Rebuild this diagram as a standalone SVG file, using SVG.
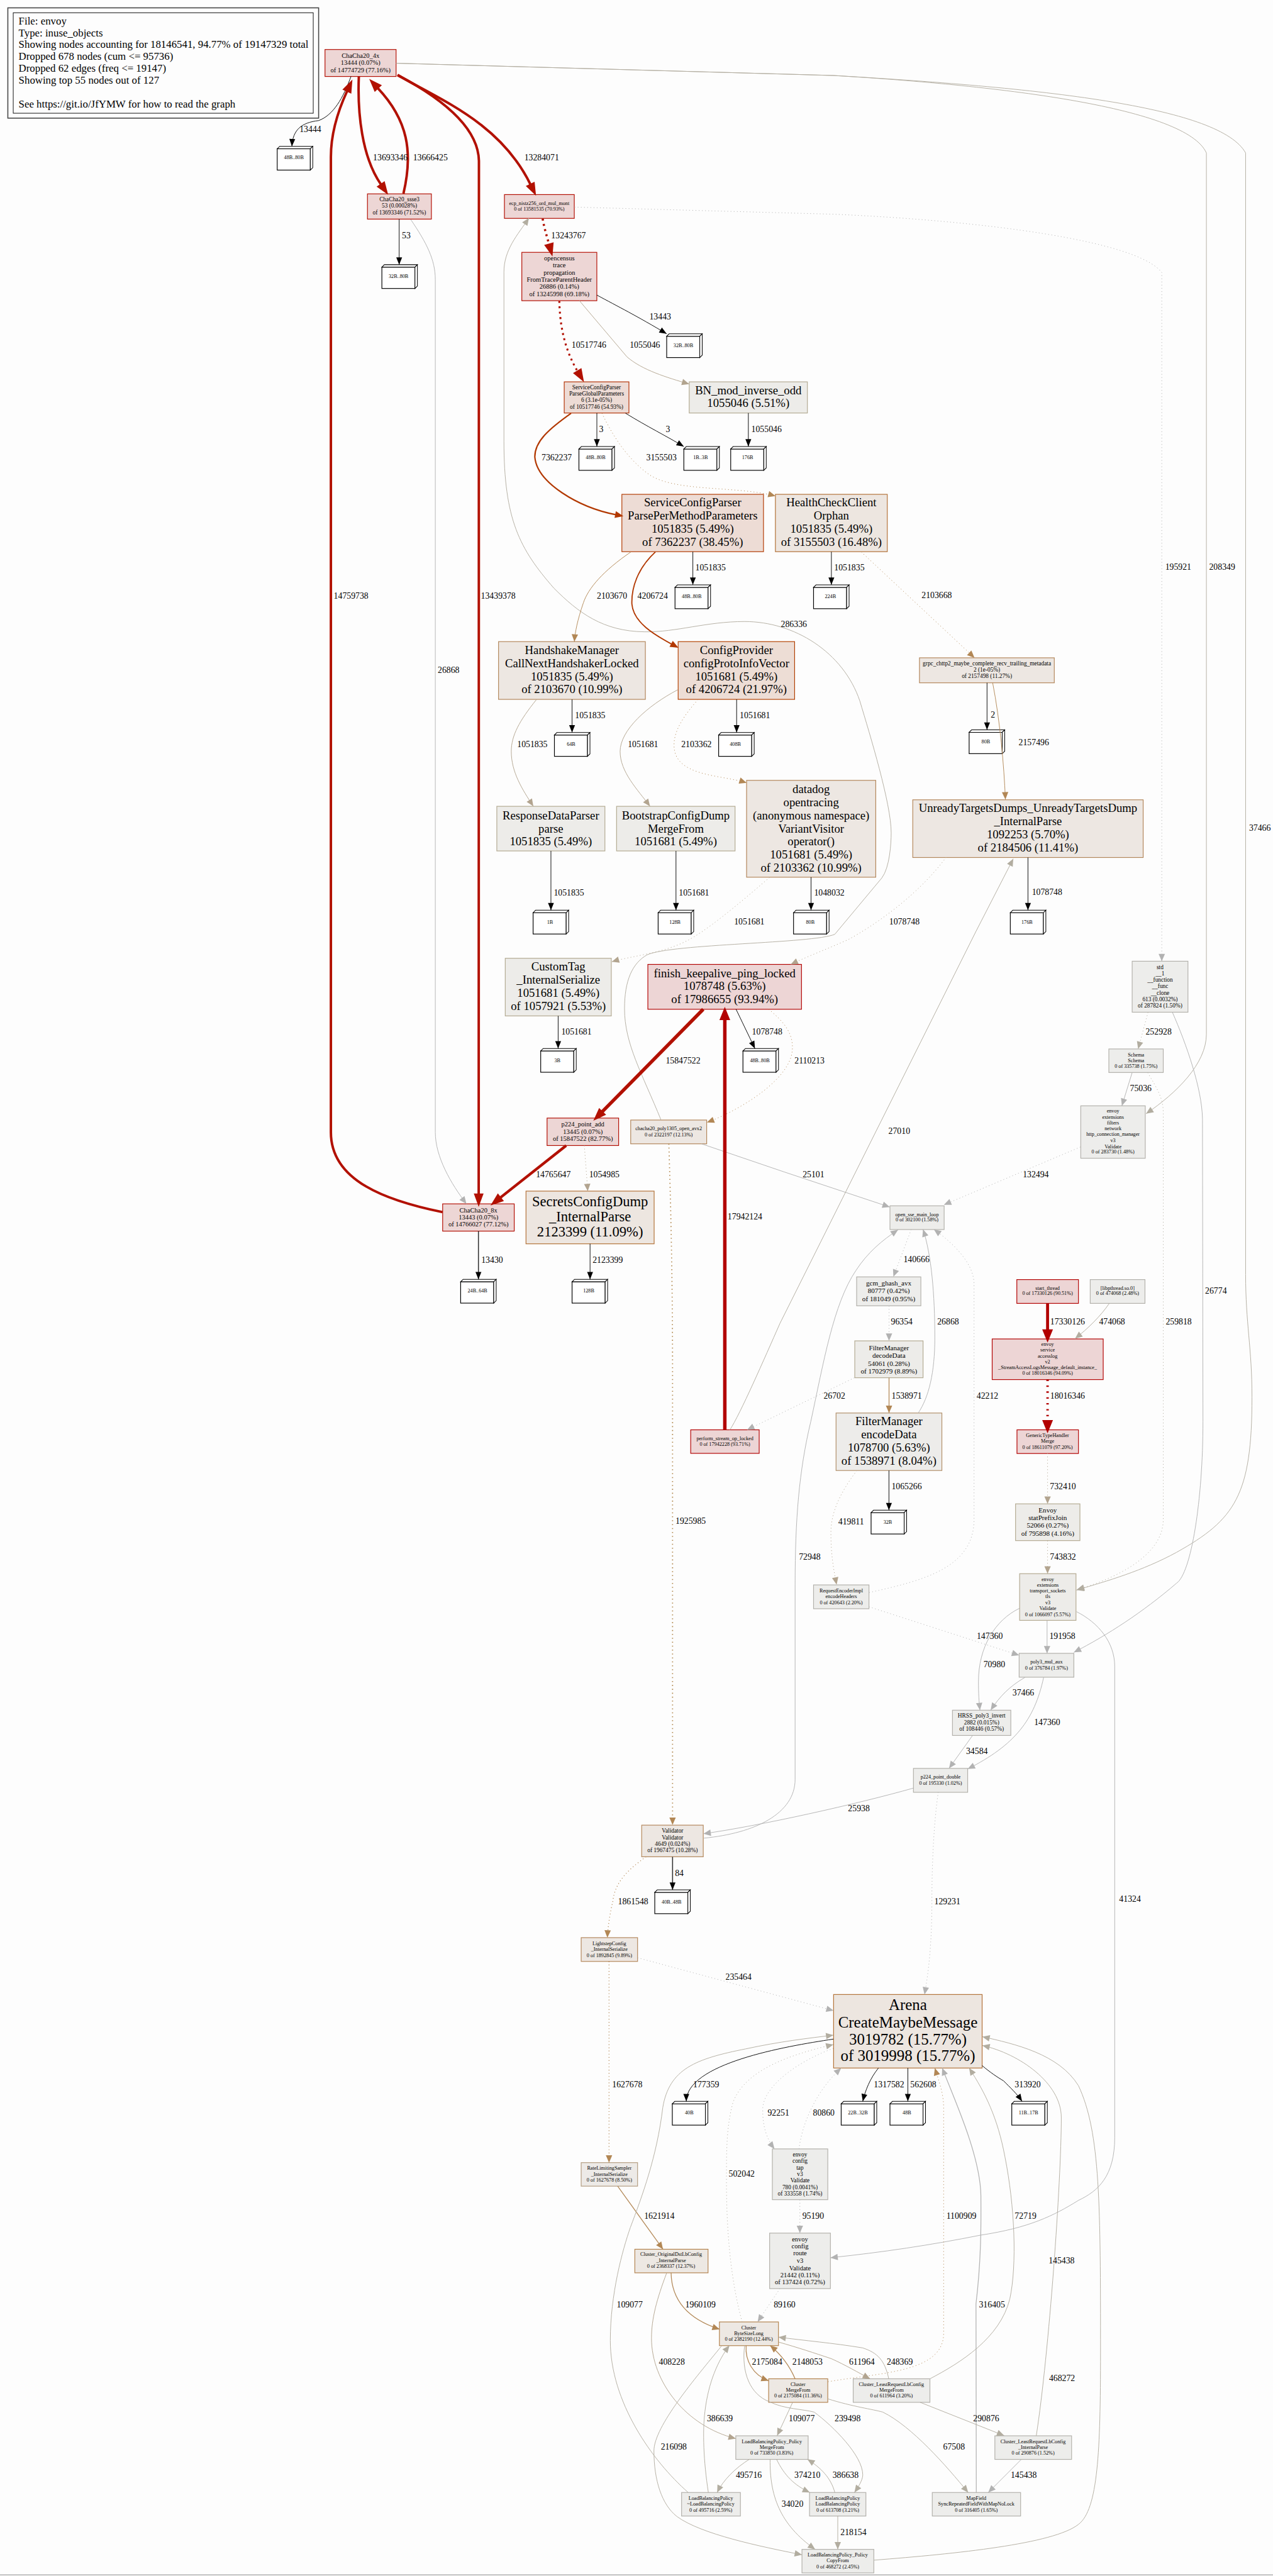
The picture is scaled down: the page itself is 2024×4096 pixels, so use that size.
<svg xmlns="http://www.w3.org/2000/svg" width="2024" height="4096" viewBox="0 0 2024 4096">
<style>
text{font-family:"Liberation Serif","Times New Roman",serif;fill:#000;dominant-baseline:central}
.c text{text-anchor:middle}
.f10{font-size:10.5px}.f12{font-size:12px}.f13{font-size:13.5px}.f14{font-size:14.3px}.f24{font-size:24px}.f29{font-size:29px}.f32{font-size:32px}
.l{font-size:17.7px}
.lg{font-size:21.6px}
rect.n{stroke-width:1.5}
.r0{fill:#edd5d5;stroke:#b20000}.r1{fill:#edd6d5;stroke:#b20c00}.r2{fill:#eddbd5;stroke:#b22e00}.r3{fill:#eddcd5;stroke:#b23a00}.r4{fill:#edddd5;stroke:#b24000}
.o1{fill:#ede6e0;stroke:#b27035}.o2{fill:#ede7e2;stroke:#b28559}.o3{fill:#ede8e3;stroke:#b2814c}.o4{fill:#edeae7;stroke:#b29b7f}
.t1{fill:#edece9;stroke:#b2a990}.t2{fill:#edecea;stroke:#b28f68}.g1{fill:#ededeb;stroke:#b2b0aa}
path{fill:none}
.e{stroke-width:1.2}
.d{stroke-dasharray:1.5 5}
.eg{stroke:#b2b2b2;marker-end:url(#ag)}
.ew{stroke:#b2ada0;marker-end:url(#aw)}
.et{stroke:#b2a48f;marker-end:url(#at)}
.eo{stroke:#b28755;marker-end:url(#ao)}
.ek{stroke:#000;marker-end:url(#ak)}
.rr{stroke:#b21000;marker-end:url(#ar)}
.rb{stroke:#b20000;marker-end:url(#arb)}
.ro{stroke:#b23800;marker-end:url(#aro)}
.w15{stroke-width:1.6}
</style>
<defs>
<marker id="ag" markerUnits="userSpaceOnUse" markerWidth="16" markerHeight="14" refX="15" refY="6.5" orient="auto" overflow="visible"><polygon points="0,0 15,6.5 0,13" fill="#b2b2b2"/></marker>
<marker id="aw" markerUnits="userSpaceOnUse" markerWidth="16" markerHeight="14" refX="15" refY="6.5" orient="auto" overflow="visible"><polygon points="0,0 15,6.5 0,13" fill="#b2ada0"/></marker>
<marker id="at" markerUnits="userSpaceOnUse" markerWidth="16" markerHeight="14" refX="15" refY="6.5" orient="auto" overflow="visible"><polygon points="0,0 15,6.5 0,13" fill="#b2a48f"/></marker>
<marker id="ao" markerUnits="userSpaceOnUse" markerWidth="16" markerHeight="14" refX="15" refY="6.5" orient="auto" overflow="visible"><polygon points="0,0 15,6.5 0,13" fill="#b28755"/></marker>
<marker id="ak" markerUnits="userSpaceOnUse" markerWidth="16" markerHeight="14" refX="15" refY="6" orient="auto" overflow="visible"><polygon points="0,0 15,6 0,12" fill="#000"/></marker>
<marker id="ar" markerUnits="userSpaceOnUse" markerWidth="30" markerHeight="22" refX="1" refY="10" orient="auto" overflow="visible"><polygon points="0,0 27,10 0,20" fill="#b21000"/></marker>
<marker id="arb" markerUnits="userSpaceOnUse" markerWidth="30" markerHeight="24" refX="1" refY="11" orient="auto" overflow="visible"><polygon points="0,0 27,11 0,22" fill="#b20000"/></marker>
<marker id="aro" markerUnits="userSpaceOnUse" markerWidth="18" markerHeight="16" refX="1" refY="7" orient="auto" overflow="visible"><polygon points="0,0 17,7 0,14" fill="#b23800"/></marker>
<g id="bx"><rect x="0" y="5" width="67.5" height="43.5" fill="#fff" stroke="#000" stroke-width="1.5"/><polygon points="0,5 5,0 72.5,0 67.5,5" fill="#fff" stroke="#000" stroke-width="1.3"/><polygon points="67.5,5 72.5,0 72.5,43.5 67.5,48.5" fill="#fff" stroke="#000" stroke-width="1.3"/></g>
</defs>
<rect x="0" y="0" width="2024" height="4096" fill="#fdfdfd"/>
<g transform="scale(0.7794)">
<line x1="0" y1="5253" x2="2597" y2="5253" stroke="#b0b0b0" stroke-width="2"/>
<g id="legend">
<rect x="16" y="16" width="634" height="225" fill="#fdfdfd" stroke="#444" stroke-width="2"/>
<rect x="27" y="26" width="612" height="205" fill="#fdfdfd" stroke="#000" stroke-width="1.2"/>
<text class="lg" x="38" y="43">File: envoy</text>
<text class="lg" x="38" y="67">Type: inuse_objects</text>
<text class="lg" x="38" y="91">Showing nodes accounting for 18146541, 94.77% of 19147329 total</text>
<text class="lg" x="38" y="115">Dropped 678 nodes (cum &lt;= 95736)</text>
<text class="lg" x="38" y="139">Dropped 62 edges (freq &lt;= 19147)</text>
<text class="lg" x="38" y="163">Showing top 55 nodes out of 127</text>
<text class="lg" x="38" y="212">See https://git.io/JfYMW for how to read the graph</text>
</g>
<g id="nodes" class="c">
<g id="n1"><rect class="n r1" x="663" y="101" width="145" height="55"/><text class="f13" x="735.5" y="113">ChaCha20_4x</text><text class="f13" x="735.5" y="128">13444 (0.07%)</text><text class="f13" x="735.5" y="143">of 14774729 (77.16%)</text></g>
<g id="n2"><rect class="n r1" x="749.6" y="395.5" width="130.4" height="51.5"/><text class="f12" x="814.8" y="407">ChaCha20_ssse3</text><text class="f12" x="814.8" y="420">53 (0.00028%)</text><text class="f12" x="814.8" y="434">of 13693346 (71.52%)</text></g>
<g id="n3"><rect class="n r1" x="1029" y="397" width="142.5" height="48.5"/><text class="f10" x="1100" y="414.5">ecp_nistz256_ord_mul_mont</text><text class="f10" x="1100" y="426.5">0 of 13581535 (70.93%)</text></g>
<g id="n4"><rect class="n r1" x="1064.5" y="514.8" width="153" height="98.7"/><text class="f13" x="1141" y="527">opencensus</text><text class="f13" x="1141" y="541">trace</text><text class="f13" x="1141" y="556">propagation</text><text class="f13" x="1141" y="570.5">FromTraceParentHeader</text><text class="f13" x="1141" y="585">26886 (0.14%)</text><text class="f13" x="1141" y="600">of 13245998 (69.18%)</text></g>
<g id="n5"><rect class="n r2" x="1151" y="779" width="132" height="63.6"/><text class="f12" x="1217" y="790">ServiceConfigParser</text><text class="f12" x="1217" y="803">ParseGlobalParameters</text><text class="f12" x="1217" y="816">6 (3.1e-05%)</text><text class="f12" x="1217" y="830">of 10517746 (54.93%)</text></g>
<g id="n6"><rect class="n t1" x="1406" y="779" width="241" height="63.6"/><text class="f24" x="1526.5" y="795.5">BN_mod_inverse_odd</text><text class="f24" x="1526.5" y="822">1055046 (5.51%)</text></g>
<g id="n7"><rect class="n r3" x="1268.6" y="1008.5" width="288.9" height="117"/><text class="f24" x="1413" y="1025">ServiceConfigParser</text><text class="f24" x="1413" y="1051.5">ParsePerMethodParameters</text><text class="f24" x="1413" y="1078.5">1051835 (5.49%)</text><text class="f24" x="1413" y="1105">of 7362237 (38.45%)</text></g>
<g id="n8"><rect class="n o1" x="1581.8" y="1008.5" width="228.2" height="117"/><text class="f24" x="1696" y="1025">HealthCheckClient</text><text class="f24" x="1696" y="1051.5">Orphan</text><text class="f24" x="1696" y="1078.5">1051835 (5.49%)</text><text class="f24" x="1696" y="1105">of 3155503 (16.48%)</text></g>
<g id="n9"><rect class="n o2" x="1017" y="1309" width="299.5" height="117.8"/><text class="f24" x="1166.7" y="1326">HandshakeManager</text><text class="f24" x="1166.7" y="1353">CallNextHandshakerLocked</text><text class="f24" x="1166.7" y="1380">1051835 (5.49%)</text><text class="f24" x="1166.7" y="1406">of 2103670 (10.99%)</text></g>
<g id="n10"><rect class="n r4" x="1383.4" y="1309" width="237.6" height="117.8"/><text class="f24" x="1502.2" y="1326">ConfigProvider</text><text class="f24" x="1502.2" y="1353">configProtoInfoVector</text><text class="f24" x="1502.2" y="1380">1051681 (5.49%)</text><text class="f24" x="1502.2" y="1406">of 4206724 (21.97%)</text></g>
<g id="n11"><rect class="n t1" x="1013.5" y="1645" width="220.5" height="91"/><text class="f24" x="1123.7" y="1663">ResponseDataParser</text><text class="f24" x="1123.7" y="1690">parse</text><text class="f24" x="1123.7" y="1715.5">1051835 (5.49%)</text></g>
<g id="n12"><rect class="n t1" x="1257.8" y="1645" width="241.7" height="91"/><text class="f24" x="1378.6" y="1663">BootstrapConfigDump</text><text class="f24" x="1378.6" y="1690">MergeFrom</text><text class="f24" x="1378.6" y="1715.5">1051681 (5.49%)</text></g>
<g id="n13"><rect class="n o2" x="1523" y="1592" width="263.5" height="197.6"/><text class="f24" x="1654.7" y="1610">datadog</text><text class="f24" x="1654.7" y="1636">opentracing</text><text class="f24" x="1654.7" y="1663">(anonymous namespace)</text><text class="f24" x="1654.7" y="1690">VariantVisitor</text><text class="f24" x="1654.7" y="1716">operator()</text><text class="f24" x="1654.7" y="1742.5">1051681 (5.49%)</text><text class="f24" x="1654.7" y="1769.5">of 2103362 (10.99%)</text></g>
<g id="n14"><rect class="n o2" x="1875.7" y="1342" width="275" height="51"/><text class="f12" x="2013.2" y="1353.6">grpc_chttp2_maybe_complete_recv_trailing_metadata</text><text class="f12" x="2013.2" y="1366">2 (1e-05%)</text><text class="f12" x="2013.2" y="1379.5">of 2157498 (11.27%)</text></g>
<g id="n15"><rect class="n o2" x="1862" y="1631.7" width="470" height="117.7"/><text class="f24" x="2097" y="1648">UnreadyTargetsDumps_UnreadyTargetsDump</text><text class="f24" x="2097" y="1675">_InternalParse</text><text class="f24" x="2097" y="1702">1092253 (5.70%)</text><text class="f24" x="2097" y="1729">of 2184506 (11.41%)</text></g>
<g id="n16"><rect class="n t1" x="1030.7" y="1955" width="216.3" height="117.6"/><text class="f24" x="1139" y="1972">CustomTag</text><text class="f24" x="1139" y="1998.5">_InternalSerialize</text><text class="f24" x="1139" y="2025.5">1051681 (5.49%)</text><text class="f24" x="1139" y="2052">of 1057921 (5.53%)</text></g>
<g id="n17"><rect class="n r0" x="1321.6" y="1967.5" width="313.4" height="91.5"/><text class="f24" x="1478.3" y="1985">finish_keepalive_ping_locked</text><text class="f24" x="1478.3" y="2011.7">1078748 (5.63%)</text><text class="f24" x="1478.3" y="2038.7">of 17986655 (93.94%)</text></g>
<g id="n18"><rect class="n r1" x="1116" y="2281" width="146" height="56"/><text class="f13" x="1189" y="2294">p224_point_add</text><text class="f13" x="1189" y="2308.5">13445 (0.07%)</text><text class="f13" x="1189" y="2323">of 15847522 (82.77%)</text></g>
<g id="n19"><rect class="n o2" x="1286.6" y="2285" width="155" height="48.5"/><text class="f10" x="1364" y="2302.7">chacha20_poly1305_open_avx2</text><text class="f10" x="1364" y="2314.7">0 of 2322197 (12.13%)</text></g>
<g id="n20"><rect class="n r1" x="903" y="2456" width="146" height="55.6"/><text class="f13" x="976" y="2469">ChaCha20_8x</text><text class="f13" x="976" y="2483">13443 (0.07%)</text><text class="f13" x="976" y="2498">of 14766027 (77.12%)</text></g>
<g id="n21"><rect class="n o1" x="1073" y="2430" width="261.4" height="107.5"/><text class="f29" x="1203.7" y="2451">SecretsConfigDump</text><text class="f29" x="1203.7" y="2482">_InternalParse</text><text class="f29" x="1203.7" y="2513.4">2123399 (11.09%)</text></g>
<g id="n22"><rect class="n g1" x="2309.6" y="1961" width="113.8" height="104"/><text class="f12" x="2366.5" y="1973">std</text><text class="f12" x="2366.5" y="1986">__1</text><text class="f12" x="2366.5" y="1999.5">__function</text><text class="f12" x="2366.5" y="2012">__func</text><text class="f12" x="2366.5" y="2026">__clone</text><text class="f12" x="2366.5" y="2039">613 (0.0032%)</text><text class="f12" x="2366.5" y="2052">of 287824 (1.50%)</text></g>
<g id="n23"><rect class="n g1" x="2262" y="2140" width="111" height="48"/><text class="f10" x="2317.5" y="2152">Schema</text><text class="f10" x="2317.5" y="2163.4">Schema</text><text class="f10" x="2317.5" y="2175.5">0 of 335738 (1.75%)</text></g>
<g id="n24"><rect class="n g1" x="2204.7" y="2256" width="131.6" height="107"/><text class="f10" x="2270.5" y="2267">envoy</text><text class="f10" x="2270.5" y="2279">extensions</text><text class="f10" x="2270.5" y="2291">filters</text><text class="f10" x="2270.5" y="2303">network</text><text class="f10" x="2270.5" y="2314.5">http_connection_manager</text><text class="f10" x="2270.5" y="2326.6">v3</text><text class="f10" x="2270.5" y="2339">Validate</text><text class="f10" x="2270.5" y="2350">0 of 283730 (1.48%)</text></g>
<g id="n25"><rect class="n g1" x="1815.5" y="2460" width="110.5" height="48.4"/><text class="f10" x="1870.7" y="2478">open_sse_main_loop</text><text class="f10" x="1870.7" y="2489">0 of 302100 (1.58%)</text></g>
<g id="n26"><rect class="n g1" x="1747.5" y="2605" width="131" height="59"/><text class="f14" x="1813" y="2617.5">gcm_ghash_avx</text><text class="f14" x="1813" y="2633.4">80777 (0.42%)</text><text class="f14" x="1813" y="2649.4">of 181049 (0.95%)</text></g>
<g id="n27"><rect class="n t1" x="1743.7" y="2735.5" width="139.3" height="75.2"/><text class="f14" x="1813.4" y="2749">FilterManager</text><text class="f14" x="1813.4" y="2765">decodeData</text><text class="f14" x="1813.4" y="2781">54061 (0.28%)</text><text class="f14" x="1813.4" y="2797">of 1702979 (8.89%)</text></g>
<g id="n28"><rect class="n r0" x="2074.3" y="2610.5" width="125.7" height="48.5"/><text class="f10" x="2137" y="2627.7">start_thread</text><text class="f10" x="2137" y="2639">0 of 17330126 (90.51%)</text></g>
<g id="n29"><rect class="n g1" x="2224" y="2610.5" width="111.7" height="48.5"/><text class="f10" x="2279.8" y="2627.7">[libpthread.so.0]</text><text class="f10" x="2279.8" y="2639">0 of 474068 (2.48%)</text></g>
<g id="n30"><rect class="n r0" x="2024" y="2731.6" width="226.5" height="82.9"/><text class="f10" x="2137" y="2743">envoy</text><text class="f10" x="2137" y="2754.6">service</text><text class="f10" x="2137" y="2766.7">accesslog</text><text class="f10" x="2137" y="2778">v2</text><text class="f10" x="2137" y="2790">_StreamAccessLogsMessage_default_instance_</text><text class="f10" x="2137" y="2802">0 of 18016346 (94.09%)</text></g>
<g id="n31"><rect class="n t2" x="1705.5" y="2882.7" width="215.9" height="117.3"/><text class="f24" x="1813.4" y="2899">FilterManager</text><text class="f24" x="1813.4" y="2926">encodeData</text><text class="f24" x="1813.4" y="2953">1078700 (5.63%)</text><text class="f24" x="1813.4" y="2979.7">of 1538971 (8.04%)</text></g>
<g id="n32"><rect class="n r0" x="2074.6" y="2917" width="125.4" height="48.3"/><text class="f10" x="2137" y="2928.6">GenericTypeHandler</text><text class="f10" x="2137" y="2940.6">Merge</text><text class="f10" x="2137" y="2952.7">0 of 18611079 (97.20%)</text></g>
<g id="n33"><rect class="n r0" x="1409" y="2917" width="139.7" height="48"/><text class="f10" x="1478.8" y="2935">perform_stream_op_locked</text><text class="f10" x="1478.8" y="2946.5">0 of 17942228 (93.71%)</text></g>
<g id="n34"><rect class="n t1" x="2071.7" y="3068" width="131.3" height="75"/><text class="f14" x="2137.3" y="3080.7">Envoy</text><text class="f14" x="2137.3" y="3096">statPrefixJoin</text><text class="f14" x="2137.3" y="3112">52066 (0.27%)</text><text class="f14" x="2137.3" y="3128">of 795898 (4.16%)</text></g>
<g id="n35"><rect class="n t1" x="2080" y="3210.5" width="115" height="95.2"/><text class="f10" x="2137.5" y="3222">envoy</text><text class="f10" x="2137.5" y="3234">extensions</text><text class="f10" x="2137.5" y="3246">transport_sockets</text><text class="f10" x="2137.5" y="3257.5">tls</text><text class="f10" x="2137.5" y="3269.6">v3</text><text class="f10" x="2137.5" y="3281.6">Validate</text><text class="f10" x="2137.5" y="3293.7">0 of 1066097 (5.57%)</text></g>
<g id="n36"><rect class="n g1" x="1659.6" y="3233.4" width="113.1" height="48.6"/><text class="f10" x="1716" y="3245.5">RequestEncoderImpl</text><text class="f10" x="1716" y="3257.5">encodeHeaders</text><text class="f10" x="1716" y="3269.6">0 of 420643 (2.20%)</text></g>
<g id="n37"><rect class="n g1" x="2079" y="3373" width="111.6" height="48.7"/><text class="f10" x="2134.8" y="3390.7">poly3_mul_aux</text><text class="f10" x="2134.8" y="3402.8">0 of 376784 (1.97%)</text></g>
<g id="n38"><rect class="n g1" x="1943" y="3489" width="119" height="51.5"/><text class="f12" x="2002.5" y="3500.3">HRSS_poly3_invert</text><text class="f12" x="2002.5" y="3513.6">2882 (0.015%)</text><text class="f12" x="2002.5" y="3527.3">of 108446 (0.57%)</text></g>
<g id="n39"><rect class="n g1" x="1863.4" y="3607.7" width="110.6" height="48.8"/><text class="f10" x="1918.7" y="3625.5">p224_point_double</text><text class="f10" x="1918.7" y="3637.5">0 of 195330 (1.02%)</text></g>
<g id="n40"><rect class="n o2" x="1309" y="3723.5" width="125.6" height="64.5"/><text class="f12" x="1372" y="3735">Validator</text><text class="f12" x="1372" y="3748.5">Validator</text><text class="f12" x="1372" y="3761.7">4649 (0.024%)</text><text class="f12" x="1372" y="3775">of 1967475 (10.28%)</text></g>
<g id="n41"><rect class="n o2" x="1185.6" y="3953" width="115" height="48.5"/><text class="f10" x="1243" y="3965">LightstepConfig</text><text class="f10" x="1243" y="3977">_InternalSerialize</text><text class="f10" x="1243" y="3989">0 of 1892845 (9.89%)</text></g>
<g id="n42"><rect class="n o1" x="1700.5" y="4069" width="303" height="150"/><text class="f32" x="1852" y="4090">Arena</text><text class="f32" x="1852" y="4125">CreateMaybeMessage</text><text class="f32" x="1852" y="4160">3019782 (15.77%)</text><text class="f32" x="1852" y="4194">of 3019998 (15.77%)</text></g>
<g id="n43"><rect class="n g1" x="1575.6" y="4384" width="113" height="103.6"/><text class="f12" x="1632" y="4395.6">envoy</text><text class="f12" x="1632" y="4408.4">config</text><text class="f12" x="1632" y="4422.4">tap</text><text class="f12" x="1632" y="4435">v3</text><text class="f12" x="1632" y="4448">Validate</text><text class="f12" x="1632" y="4462">780 (0.0041%)</text><text class="f12" x="1632" y="4475.4">of 333558 (1.74%)</text></g>
<g id="n44"><rect class="n o4" x="1185.6" y="4412" width="115" height="48"/><text class="f10" x="1243" y="4423.6">RateLimitingSampler</text><text class="f10" x="1243" y="4435.8">_InternalSerialize</text><text class="f10" x="1243" y="4447.4">0 of 1627678 (8.50%)</text></g>
<g id="n45"><rect class="n g1" x="1570" y="4555.8" width="124" height="113.2"/><text class="f13" x="1632" y="4568.6">envoy</text><text class="f13" x="1632" y="4583">config</text><text class="f13" x="1632" y="4597">route</text><text class="f13" x="1632" y="4612">v3</text><text class="f13" x="1632" y="4627">Validate</text><text class="f13" x="1632" y="4641">21442 (0.11%)</text><text class="f13" x="1632" y="4655.7">of 137424 (0.72%)</text></g>
<g id="n46"><rect class="n o3" x="1295" y="4588.7" width="149.4" height="48.1"/><text class="f10" x="1369" y="4599.6">Cluster_OriginalDstLbConfig</text><text class="f10" x="1369" y="4611.8">_InternalParse</text><text class="f10" x="1369" y="4623.4">0 of 2368337 (12.37%)</text></g>
<g id="n47"><rect class="n o3" x="1467.6" y="4737" width="120.4" height="48.4"/><text class="f10" x="1527.5" y="4749">Cluster</text><text class="f10" x="1527.5" y="4761">ByteSizeLong</text><text class="f10" x="1527.5" y="4772.6">0 of 2382190 (12.44%)</text></g>
<g id="n48"><rect class="n o3" x="1568" y="4853" width="120.6" height="48"/><text class="f10" x="1628" y="4864.6">Cluster</text><text class="f10" x="1628" y="4876.7">MergeFrom</text><text class="f10" x="1628" y="4888.3">0 of 2175084 (11.36%)</text></g>
<g id="n49"><rect class="n g1" x="1740.5" y="4853" width="156.5" height="48"/><text class="f10" x="1818.5" y="4864.6">Cluster_LeastRequestLbConfig</text><text class="f10" x="1818.5" y="4876.7">MergeFrom</text><text class="f10" x="1818.5" y="4888.3">0 of 611964 (3.20%)</text></g>
<g id="n50"><rect class="n g1" x="1501" y="4969.3" width="147.6" height="48.1"/><text class="f10" x="1574.5" y="4981">LoadBalancingPolicy_Policy</text><text class="f10" x="1574.5" y="4993">MergeFrom</text><text class="f10" x="1574.5" y="5004.6">0 of 733850 (3.83%)</text></g>
<g id="n51"><rect class="n g1" x="2029.5" y="4969.3" width="156.5" height="48.1"/><text class="f10" x="2107.5" y="4981">Cluster_LeastRequestLbConfig</text><text class="f10" x="2107.5" y="4993">_InternalParse</text><text class="f10" x="2107.5" y="5004.6">0 of 290876 (1.52%)</text></g>
<g id="n52"><rect class="n g1" x="1390.4" y="5085" width="120" height="48"/><text class="f10" x="1450" y="5096.6">LoadBalancingPolicy</text><text class="f10" x="1450" y="5108.8">~LoadBalancingPolicy</text><text class="f10" x="1450" y="5121">0 of 495716 (2.59%)</text></g>
<g id="n53"><rect class="n g1" x="1651.4" y="5085" width="115" height="48"/><text class="f10" x="1709" y="5096.6">LoadBalancingPolicy</text><text class="f10" x="1709" y="5108.8">LoadBalancingPolicy</text><text class="f10" x="1709" y="5121">0 of 613708 (3.21%)</text></g>
<g id="n54"><rect class="n g1" x="1901.8" y="5085" width="180.2" height="48"/><text class="f10" x="1991.6" y="5096.6">MapField</text><text class="f10" x="1991.6" y="5108.8">SyncRepeatedFieldWithMapNoLock</text><text class="f10" x="1991.6" y="5121">0 of 316405 (1.65%)</text></g>
<g id="n55"><rect class="n g1" x="1636" y="5201" width="146.6" height="48"/><text class="f10" x="1709" y="5212.3">LoadBalancingPolicy_Policy</text><text class="f10" x="1709" y="5224.5">CopyFrom</text><text class="f10" x="1709" y="5236.7">0 of 468272 (2.45%)</text></g>
</g>
<g id="leaves" class="c">
<g id="b1"><use href="#bx" x="565.5" y="298.5"/><text class="f10" x="599.5" y="321.5">48B..80B</text></g>
<g id="b2"><use href="#bx" x="779" y="540"/><text class="f10" x="813" y="564">32B..80B</text></g>
<g id="b3"><use href="#bx" x="1360" y="681"/><text class="f10" x="1394" y="705">32B..80B</text></g>
<g id="b4"><use href="#bx" x="1181" y="911"/><text class="f10" x="1215" y="934">48B..80B</text></g>
<g id="b5"><use href="#bx" x="1395" y="911"/><text class="f10" x="1429" y="934">1B..3B</text></g>
<g id="b6"><use href="#bx" x="1490.6" y="911"/><text class="f10" x="1525" y="934">176B</text></g>
<g id="b7"><use href="#bx" x="1377" y="1193.3"/><text class="f10" x="1411" y="1217">48B..80B</text></g>
<g id="b8"><use href="#bx" x="1659.6" y="1193.3"/><text class="f10" x="1694" y="1217">224B</text></g>
<g id="b9"><use href="#bx" x="1131" y="1494.5"/><text class="f10" x="1165" y="1518">64B</text></g>
<g id="b10"><use href="#bx" x="1466" y="1494.5"/><text class="f10" x="1500" y="1518">408B</text></g>
<g id="b11"><use href="#bx" x="1977" y="1489"/><text class="f10" x="2011" y="1513">80B</text></g>
<g id="b12"><use href="#bx" x="1087.5" y="1857"/><text class="f10" x="1122" y="1881">1B</text></g>
<g id="b13"><use href="#bx" x="1342.6" y="1857"/><text class="f10" x="1377" y="1881">128B</text></g>
<g id="b14"><use href="#bx" x="1618.8" y="1857"/><text class="f10" x="1653" y="1881">80B</text></g>
<g id="b15"><use href="#bx" x="2061" y="1857"/><text class="f10" x="2095" y="1881">176B</text></g>
<g id="b16"><use href="#bx" x="1103" y="2139"/><text class="f10" x="1137" y="2164">3B</text></g>
<g id="b17"><use href="#bx" x="1515.6" y="2139"/><text class="f10" x="1550" y="2164">48B..80B</text></g>
<g id="b18"><use href="#bx" x="939.7" y="2610"/><text class="f10" x="974" y="2634">24B..64B</text></g>
<g id="b19"><use href="#bx" x="1167" y="2610"/><text class="f10" x="1201" y="2634">128B</text></g>
<g id="b20"><use href="#bx" x="1777" y="3081"/><text class="f10" x="1811" y="3105">32B</text></g>
<g id="b21"><use href="#bx" x="1335.7" y="3855.6"/><text class="f10" x="1370" y="3880">40B..48B</text></g>
<g id="b22"><use href="#bx" x="1371.5" y="4287"/><text class="f10" x="1406" y="4310">40B</text></g>
<g id="b23"><use href="#bx" x="1716" y="4287"/><text class="f10" x="1750" y="4310">22B..32B</text></g>
<g id="b24"><use href="#bx" x="1815.5" y="4287"/><text class="f10" x="1850" y="4310">48B</text></g>
<g id="b25"><use href="#bx" x="2064" y="4287"/><text class="f10" x="2098" y="4310">11B..17B</text></g>
</g>
<g id="connectors">
<path class="e ek" d="M716,156C700,200 680,235 650,246C615,250 597,265 595.5,298.5"/>
<path class="rr" stroke-width="5" d="M732,156C729,230 738,320 777,376"/>
<path class="rr" stroke-width="5" d="M823,395C843,310 832,245 771,180"/>
<path class="rr" stroke-width="5" d="M903,2473C790,2450 675,2410 675,2310L675,320C675,270 690,225 708,186"/>
<path class="rr" stroke-width="5" d="M811,153C900,200 977,260 977,330L976.5,2436"/>
<path class="rr" stroke-width="5" d="M811,153C900,205 1020,250 1082,376"/>
<path class="e ek" d="M814.3,447L814.3,540"/>
<path class="e eg" d="M838,448C870,495 888,530 888,570L888,2310C888,2360 920,2415 951.5,2456"/>
<path class="e ew" d="M1348.5,2285C1310,2190 1274,2130 1274,2058C1274,2000 1290,1965 1320,1948C1370,1925 1660,1925 1703,1906L1799,1791C1815,1770 1818,1720 1818,1699C1818,1640 1775,1500 1754,1430C1720,1330 1620,1268 1519,1268C1440,1268 1380,1290 1315,1289C1230,1288 1180,1250 1130,1200C1060,1120 1028,1060 1028,900L1028,555C1028,510 1055,480 1079,445"/>
<path class="rr" stroke-width="4.5" stroke-dasharray="4 7" d="M1107,446C1110,465 1115,480 1120,498"/>
<path class="e ek" d="M1217.6,602C1260,625 1300,645 1360,681"/>
<path class="e et" d="M1182,613.5L1279,728C1310,755 1360,770 1406,783.5"/>
<path class="rr" stroke-width="4" stroke-dasharray="4 7" d="M1141,614C1142,660 1150,710 1178,757"/>
<path class="ro" stroke-width="2.8" d="M1165,843C1120,875 1091,900 1091,932C1095,985 1180,1035 1256,1050"/>
<path class="e ek" d="M1217.6,842.6L1217.6,911"/>
<path class="e ek" d="M1276,843C1320,870 1360,890 1395,911"/>
<path class="e d eo" d="M1228,843C1250,890 1280,935 1320,965C1370,1005 1500,990 1582,1012"/>
<path class="e ek" d="M1526.6,842.6L1526.6,911"/>
<path class="e eo" d="M1287,1126C1230,1165 1200,1200 1190,1230C1178,1265 1173,1290 1171.7,1309"/>
<path class="ro" stroke-width="2.4" d="M1337,1126C1300,1160 1288,1200 1289,1232C1292,1270 1335,1295 1370,1314"/>
<path class="e ek" d="M1413.4,1125.6L1413.4,1193"/>
<path class="e ek" d="M1696,1125.6L1696,1193"/>
<path class="e d eo" d="M1757,1126L1988,1342"/>
<path class="e ek" d="M1167,1426.8L1167,1494.5"/>
<path class="e et" d="M1094.5,1427C1060,1470 1043,1500 1043,1533C1043,1575 1065,1610 1088,1645"/>
<path class="e et" d="M1383,1407C1320,1440 1265,1490 1265,1533C1265,1575 1300,1610 1326,1645"/>
<path class="e d eo" d="M1424,1427C1395,1460 1375,1490 1375,1520C1375,1585 1470,1580 1523,1597"/>
<path class="e ek" d="M1502.7,1426.8L1502.7,1494.5"/>
<path class="e ek" d="M1123.9,1736L1123.9,1857"/>
<path class="e ek" d="M1379,1736L1379,1857"/>
<path class="e ek" d="M1654.5,1789.6L1654.5,1857"/>
<path class="e d et" d="M1570,1790C1500,1850 1440,1900 1400,1920C1350,1945 1290,1950 1248,1962"/>
<path class="e d et" d="M1930,1749C1870,1830 1780,1890 1730,1917C1690,1935 1650,1950 1613,1967.5"/>
<path class="e ek" d="M2097,1749.4L2097,1857"/>
<path class="e ek" d="M2013.5,1393L2013.5,1489"/>
<path class="e eo" d="M2025,1393C2040,1470 2048,1560 2051,1631"/>
<path class="e d eg" d="M1172,422.5L1700,437C2000,450 2320,490 2370,556L2370,1961"/>
<path class="e ew" d="M808,129L1700,154C2050,175 2420,220 2461,312L2461,2110C2461,2170 2400,2230 2338,2272"/>
<path class="e ew" d="M808,129L1700,154C2150,180 2490,220 2541,312L2541,2600C2541,2700 2554,2750 2554,2850C2554,3050 2520,3100 2400,3167C2330,3205 2260,3225 2196,3244"/>
<path class="e d ew" d="M2342,2065L2321.7,2140"/>
<path class="e eg" d="M2309.6,2188L2288.6,2256"/>
<path class="e d ew" d="M2341,2188C2360,2220 2373,2240 2373,2270L2373,3100C2373,3180 2260,3225 2197,3243"/>
<path class="e eg" d="M2391.6,2065C2420,2130 2452,2220 2453,2283L2454,2900C2454,3060 2430,3210 2400,3230C2330,3290 2260,3335 2190.6,3371"/>
<path class="e d eg" d="M2204,2340L1925.5,2458"/>
<path class="e eg" d="M1431,2333.5L1600,2391L1815,2462.5"/>
<path style="stroke:#b2894f;marker-end:url(#ao)" stroke-width="2.2" stroke-dasharray="2 6" d="M1364.4,2333.5C1368,2450 1372,2600 1372,2800L1372,3723"/>
<path class="rr" stroke-width="7" d="M1434.6,2059L1228.6,2268"/>
<path class="rr" stroke-width="5.5" d="M1155,2337L1021,2443"/>
<path class="e d et" d="M1192,2337L1199,2430"/>
<path class="ek" stroke-width="2" style="stroke:#333" d="M976,2511.6L976,2610"/>
<path class="e ek" d="M1203.7,2537.5L1203.7,2610"/>
<path class="e ek" d="M1138.6,2072.6L1138.6,2139"/>
<path class="e ek" d="M1501.5,2059L1540,2139"/>
<path class="e d eo" d="M1568,2059C1600,2085 1620,2110 1616,2145C1610,2200 1520,2260 1442,2290"/>
<path class="rb" stroke-width="7" d="M1478.6,2917L1478.6,2080"/>
<path class="e ew" d="M1489,2917C1510,2885 1560,2770 1591,2700L1991,1900L2067,1752"/>
<path class="e d eg" d="M1858.8,2508.4L1822.5,2604.7"/>
<path class="e d eg" d="M1813.6,2664L1813.6,2735.5"/>
<path class="e w15 eo" d="M1813.6,2810.7L1813.6,2882.7"/>
<path class="e eg" d="M1873,2883C1895,2850 1907,2800 1907,2729C1907,2640 1900,2560 1883,2508"/>
<path class="e d eg" d="M1743,2810.7L1524,2917"/>
<path class="e d et" d="M1748,3000C1710,3050 1695,3090 1695,3127C1695,3170 1700,3200 1706.7,3233"/>
<path class="e ek" d="M1813.4,3000L1813.4,3081"/>
<path class="e d eg" d="M1773,3249C1880,3225 1987,3200 1987,3100L1987,2620C1987,2580 1950,2540 1905,2508"/>
<path class="e d eg" d="M1772.7,3278L2079,3377"/>
<path class="e eg" d="M2080,3281C2030,3305 1996,3360 1996,3431C1996,3455 1997,3470 1999,3489"/>
<path class="e eg" d="M2136,3305.7L2136,3373"/>
<path class="e eg" d="M2091,3422C2060,3440 2040,3460 2021,3489"/>
<path class="e eg" d="M2129,3422C2110,3510 2070,3560 1974,3609"/>
<path class="e eg" d="M1984,3540.5L1936,3607.7"/>
<path class="e eg" d="M1863,3648C1750,3680 1550,3725 1435,3741"/>
<path class="e eg" d="M1436,3750C1540,3740 1622,3700 1622,3630L1622,3232C1622,3100 1630,3000 1654,2900C1680,2780 1700,2660 1746,2592C1770,2555 1800,2530 1832,2509"/>
<path class="ek" stroke-width="2" style="stroke:#333" d="M1372,3788L1372,3855.6"/>
<path class="d eo" stroke-width="1.6" d="M1318,3788C1280,3815 1254,3840 1250,3880C1245,3900 1240,3930 1239,3953"/>
<path class="e d eg" d="M1914,3656C1905,3720 1901,3800 1901,3880C1901,3960 1895,4020 1886,4069"/>
<path class="e d eg" d="M1300.6,3994L1700.5,4102"/>
<path class="d eo" stroke-width="1.6" d="M1242.4,4001.5L1242.4,4412"/>
<path class="w15 eo" d="M1260,4460L1352.5,4588.7"/>
<path class="w15 eo" d="M1369,4637C1370,4690 1400,4730 1468,4752"/>
<path class="e et" d="M1360,4637C1340,4690 1329,4730 1329,4770C1329,4860 1400,4950 1501,4975"/>
<path class="e d eg" d="M1591,4669L1545.5,4737"/>
<path class="e d eg" d="M1631.7,4487.6L1631.7,4555.8"/>
<path class="e eg" d="M2196,3288C2240,3310 2274,3350 2274,3400L2274,4360C2274,4440 2240,4470 2200,4489C2150,4520 2100,4545 2000,4560C1900,4580 1800,4595 1694,4606"/>
<path class="w15 eg" d="M1991.6,5085L1991,4700C2003,4600 2001,4520 2001,4480C2000,4400 1950,4290 1922,4219"/>
<path class="e ew" d="M1897,4853C1960,4820 2040,4770 2060,4690C2075,4620 2070,4500 2050,4400C2035,4320 2010,4270 1977,4219"/>
<path class="e ew" d="M2114,4969C2140,4800 2165,4450 2165,4320C2165,4250 2080,4190 2004,4173"/>
<path class="e ew" d="M1783,5223C1950,5210 2150,5190 2200,5150C2240,5120 2245,5000 2245,4800C2245,4500 2245,4350 2200,4255C2160,4190 2070,4170 2004,4155"/>
<path class="e ek" d="M1700,4160C1600,4175 1400,4210 1400,4287"/>
<path class="e ew" d="M1404,5085C1330,5020 1245,4900 1245,4775C1245,4680 1270,4590 1286,4544C1310,4480 1340,4400 1352,4300C1365,4220 1420,4200 1521,4180C1590,4165 1650,4158 1700,4152"/>
<path class="e d ew" d="M1514,4737C1490,4650 1482,4550 1482,4452C1482,4380 1482,4340 1495,4290C1520,4220 1620,4190 1700,4171"/>
<path class="e d eg" d="M1700,4179C1640,4200 1560,4250 1556,4300C1555,4340 1565,4365 1580,4384"/>
<path class="e d eg" d="M1630,4384C1635,4340 1660,4270 1716,4219"/>
<path class="e d eo" d="M1689,4859C1800,4840 1925,4840 1925,4760L1925,4300C1925,4270 1915,4245 1907,4219"/>
<path class="e ek" d="M1792,4219C1775,4240 1765,4265 1760,4287"/>
<path class="e ek" d="M1852,4219L1852,4287"/>
<path class="e ek" d="M2003.5,4214C2020,4228 2035,4238 2047,4245C2060,4258 2075,4272 2085,4287"/>
<path class="w15 eo" d="M1522,4785C1520,4815 1535,4845 1568,4857"/>
<path class="w15 eo" d="M1622,4853C1610,4825 1595,4805 1571,4785"/>
<path class="e et" d="M1588,4778C1630,4790 1660,4800 1696,4812C1725,4825 1750,4840 1775,4853"/>
<path class="e ew" d="M1813,4853C1805,4815 1790,4800 1760,4790C1700,4780 1640,4775 1588,4768"/>
<path class="e ew" d="M1519,4785C1512,4840 1530,4885 1570,4900C1600,4915 1640,4915 1661,4921C1700,4950 1760,5010 1760,5049C1760,5060 1750,5075 1743,5085"/>
<path class="e ew" d="M1617,4901L1585.4,4969"/>
<path class="e ew" d="M1689,4894C1740,4910 1780,4915 1801,4921C1860,4950 1930,5030 1975,5085"/>
<path class="e ew" d="M1877,4901L2048.5,4969"/>
<path class="e eg" d="M2083.5,5017.4L2016,5085"/>
<path class="e ew" d="M1529,5017C1500,5035 1475,5060 1463,5085"/>
<path class="e ew" d="M1584,5017C1600,5050 1620,5070 1652,5085"/>
<path class="e ew" d="M1703,5085C1695,5055 1675,5035 1647,5017"/>
<path class="e ew" d="M1571,5017C1570,5090 1590,5150 1663,5201"/>
<path class="e ew" d="M1709,5133L1709,5201"/>
<path class="e ew" d="M1445,5085C1435,5020 1433,4960 1438,4920C1445,4860 1465,4815 1488,4785"/>
<path class="e ew" d="M1472,4786C1420,4850 1334,4950 1334,5000C1334,5060 1350,5110 1381,5134C1430,5170 1550,5195 1636,5212"/>
<path class="rb" stroke-width="6" d="M2137,2659L2137,2713"/>
<path class="e ew" d="M2263,2659C2245,2685 2220,2710 2193,2731"/>
<path class="rb" stroke-width="5" stroke-dasharray="3 9" d="M2137,2814.5L2137,2898"/>
<path class="e d et" d="M2137,2965L2137,3068"/>
<path class="e d et" d="M2137,3143L2137,3210.5"/>
<g id="edge-labels">
<text class="l" x="611" y="264">13444</text>
<text class="l" x="761" y="322">13693346</text>
<text class="l" x="842.5" y="322">13666425</text>
<text class="l" x="1069.6" y="322">13284071</text>
<text class="l" x="820" y="480">53</text>
<text class="l" x="1124.4" y="480">13243767</text>
<text class="l" x="1166" y="704">10517746</text>
<text class="l" x="1284.6" y="704">1055046</text>
<text class="l" x="1324.7" y="645.7">13443</text>
<text class="l" x="1222" y="876">3</text>
<text class="l" x="1358" y="876">3</text>
<text class="l" x="1532.7" y="876">1055046</text>
<text class="l" x="1104.7" y="934">7362237</text>
<text class="l" x="1318.4" y="934">3155503</text>
<text class="l" x="1418.5" y="1157.7">1051835</text>
<text class="l" x="1701.7" y="1157.7">1051835</text>
<text class="l" x="981" y="1215.7">13439378</text>
<text class="l" x="680.8" y="1215.7">14759738</text>
<text class="l" x="893" y="1367.5">26868</text>
<text class="l" x="1217.6" y="1215.7">2103670</text>
<text class="l" x="1300.5" y="1215.7">4206724</text>
<text class="l" x="1593" y="1273.7">286336</text>
<text class="l" x="1880" y="1215">2103668</text>
<text class="l" x="2377" y="1157">195921</text>
<text class="l" x="2466.6" y="1157">208349</text>
<text class="l" x="1173" y="1460">1051835</text>
<text class="l" x="1509" y="1460">1051681</text>
<text class="l" x="1055" y="1518">1051835</text>
<text class="l" x="1280.7" y="1518">1051681</text>
<text class="l" x="1389.8" y="1518">2103362</text>
<text class="l" x="2021" y="1457.7">2</text>
<text class="l" x="2078" y="1515">2157496</text>
<text class="l" x="1129.6" y="1821.7">1051835</text>
<text class="l" x="1384.7" y="1821.7">1051681</text>
<text class="l" x="1660.8" y="1821.7">1048032</text>
<text class="l" x="2105" y="1820">1078748</text>
<text class="l" x="1497.6" y="1879.7">1051681</text>
<text class="l" x="1814" y="1879.7">1078748</text>
<text class="l" x="2548" y="1689">37466</text>
<text class="l" x="1145" y="2105.4">1051681</text>
<text class="l" x="1534" y="2105.4">1078748</text>
<text class="l" x="1358" y="2163.4">15847522</text>
<text class="l" x="1620.8" y="2163.4">2110213</text>
<text class="l" x="1093.4" y="2396">14765647</text>
<text class="l" x="1201.8" y="2396">1054985</text>
<text class="l" x="1637.4" y="2396">25101</text>
<text class="l" x="1484.3" y="2482.6">17942124</text>
<text class="l" x="981.8" y="2570">13430</text>
<text class="l" x="1208.8" y="2570">2123399</text>
<text class="l" x="1812.4" y="2307.5">27010</text>
<text class="l" x="2337" y="2104.7">252928</text>
<text class="l" x="2305" y="2220.8">75036</text>
<text class="l" x="2086.4" y="2395.5">132494</text>
<text class="l" x="1843" y="2569.6">140666</text>
<text class="l" x="1817.5" y="2696.6">96354</text>
<text class="l" x="1912" y="2696.6">26868</text>
<text class="l" x="2142.4" y="2696.6">17330126</text>
<text class="l" x="2242" y="2696.6">474068</text>
<text class="l" x="2378" y="2696.6">259818</text>
<text class="l" x="2458.4" y="2633.4">26774</text>
<text class="l" x="1680" y="2847.7">26702</text>
<text class="l" x="1818.7" y="2847.7">1538971</text>
<text class="l" x="1992.3" y="2847.7">42212</text>
<text class="l" x="2142.4" y="2847.7">18016346</text>
<text class="l" x="1818.6" y="3032.5">1065266</text>
<text class="l" x="1710" y="3103.7">419811</text>
<text class="l" x="2141.8" y="3032.5">732410</text>
<text class="l" x="1629.7" y="3176">72948</text>
<text class="l" x="2141.8" y="3176">743832</text>
<text class="l" x="1992.5" y="3338">147360</text>
<text class="l" x="2140.6" y="3338">191958</text>
<text class="l" x="2006.3" y="3396">70980</text>
<text class="l" x="2065.4" y="3453.8">37466</text>
<text class="l" x="2109.6" y="3513.6">147360</text>
<text class="l" x="1970.7" y="3572.7">34584</text>
<text class="l" x="1730" y="3689">25938</text>
<text class="l" x="1378" y="3103.4">1925985</text>
<text class="l" x="1377" y="3821">84</text>
<text class="l" x="1260.6" y="3879">1861548</text>
<text class="l" x="1906" y="3879">129231</text>
<text class="l" x="2283" y="3874">41324</text>
<text class="l" x="1480" y="4033.7">235464</text>
<text class="l" x="1248.7" y="4252">1627678</text>
<text class="l" x="1414" y="4252">177359</text>
<text class="l" x="1782.6" y="4252">1317582</text>
<text class="l" x="1857" y="4252">562608</text>
<text class="l" x="2070" y="4252">313920</text>
<text class="l" x="1565.8" y="4310">92251</text>
<text class="l" x="1658.4" y="4310">80860</text>
<text class="l" x="1486.5" y="4435">502042</text>
<text class="l" x="1314" y="4521">1621914</text>
<text class="l" x="1636.7" y="4521">95190</text>
<text class="l" x="1930.6" y="4521">1100909</text>
<text class="l" x="2070" y="4521">72719</text>
<text class="l" x="2139" y="4611.8">145438</text>
<text class="l" x="1258" y="4702">109077</text>
<text class="l" x="1398" y="4702">1960109</text>
<text class="l" x="1578.4" y="4702">89160</text>
<text class="l" x="1997" y="4702">316405</text>
<text class="l" x="1344" y="4818">408228</text>
<text class="l" x="1534" y="4818">2175084</text>
<text class="l" x="1616.3" y="4818">2148053</text>
<text class="l" x="1732" y="4818">611964</text>
<text class="l" x="1809" y="4818">248369</text>
<text class="l" x="2140" y="4852">468272</text>
<text class="l" x="1442" y="4934">386639</text>
<text class="l" x="1609" y="4934">109077</text>
<text class="l" x="1702.6" y="4934">239498</text>
<text class="l" x="1985.3" y="4934">290876</text>
<text class="l" x="1348" y="4992">216098</text>
<text class="l" x="1924" y="4992">67508</text>
<text class="l" x="1501" y="5049.7">495716</text>
<text class="l" x="1620.5" y="5049.7">374210</text>
<text class="l" x="1698.4" y="5049.7">386638</text>
<text class="l" x="2061.8" y="5049.7">145438</text>
<text class="l" x="1594.6" y="5108">34020</text>
<text class="l" x="1714.5" y="5166">218154</text>
</g>
</g>
</g>
</svg>
